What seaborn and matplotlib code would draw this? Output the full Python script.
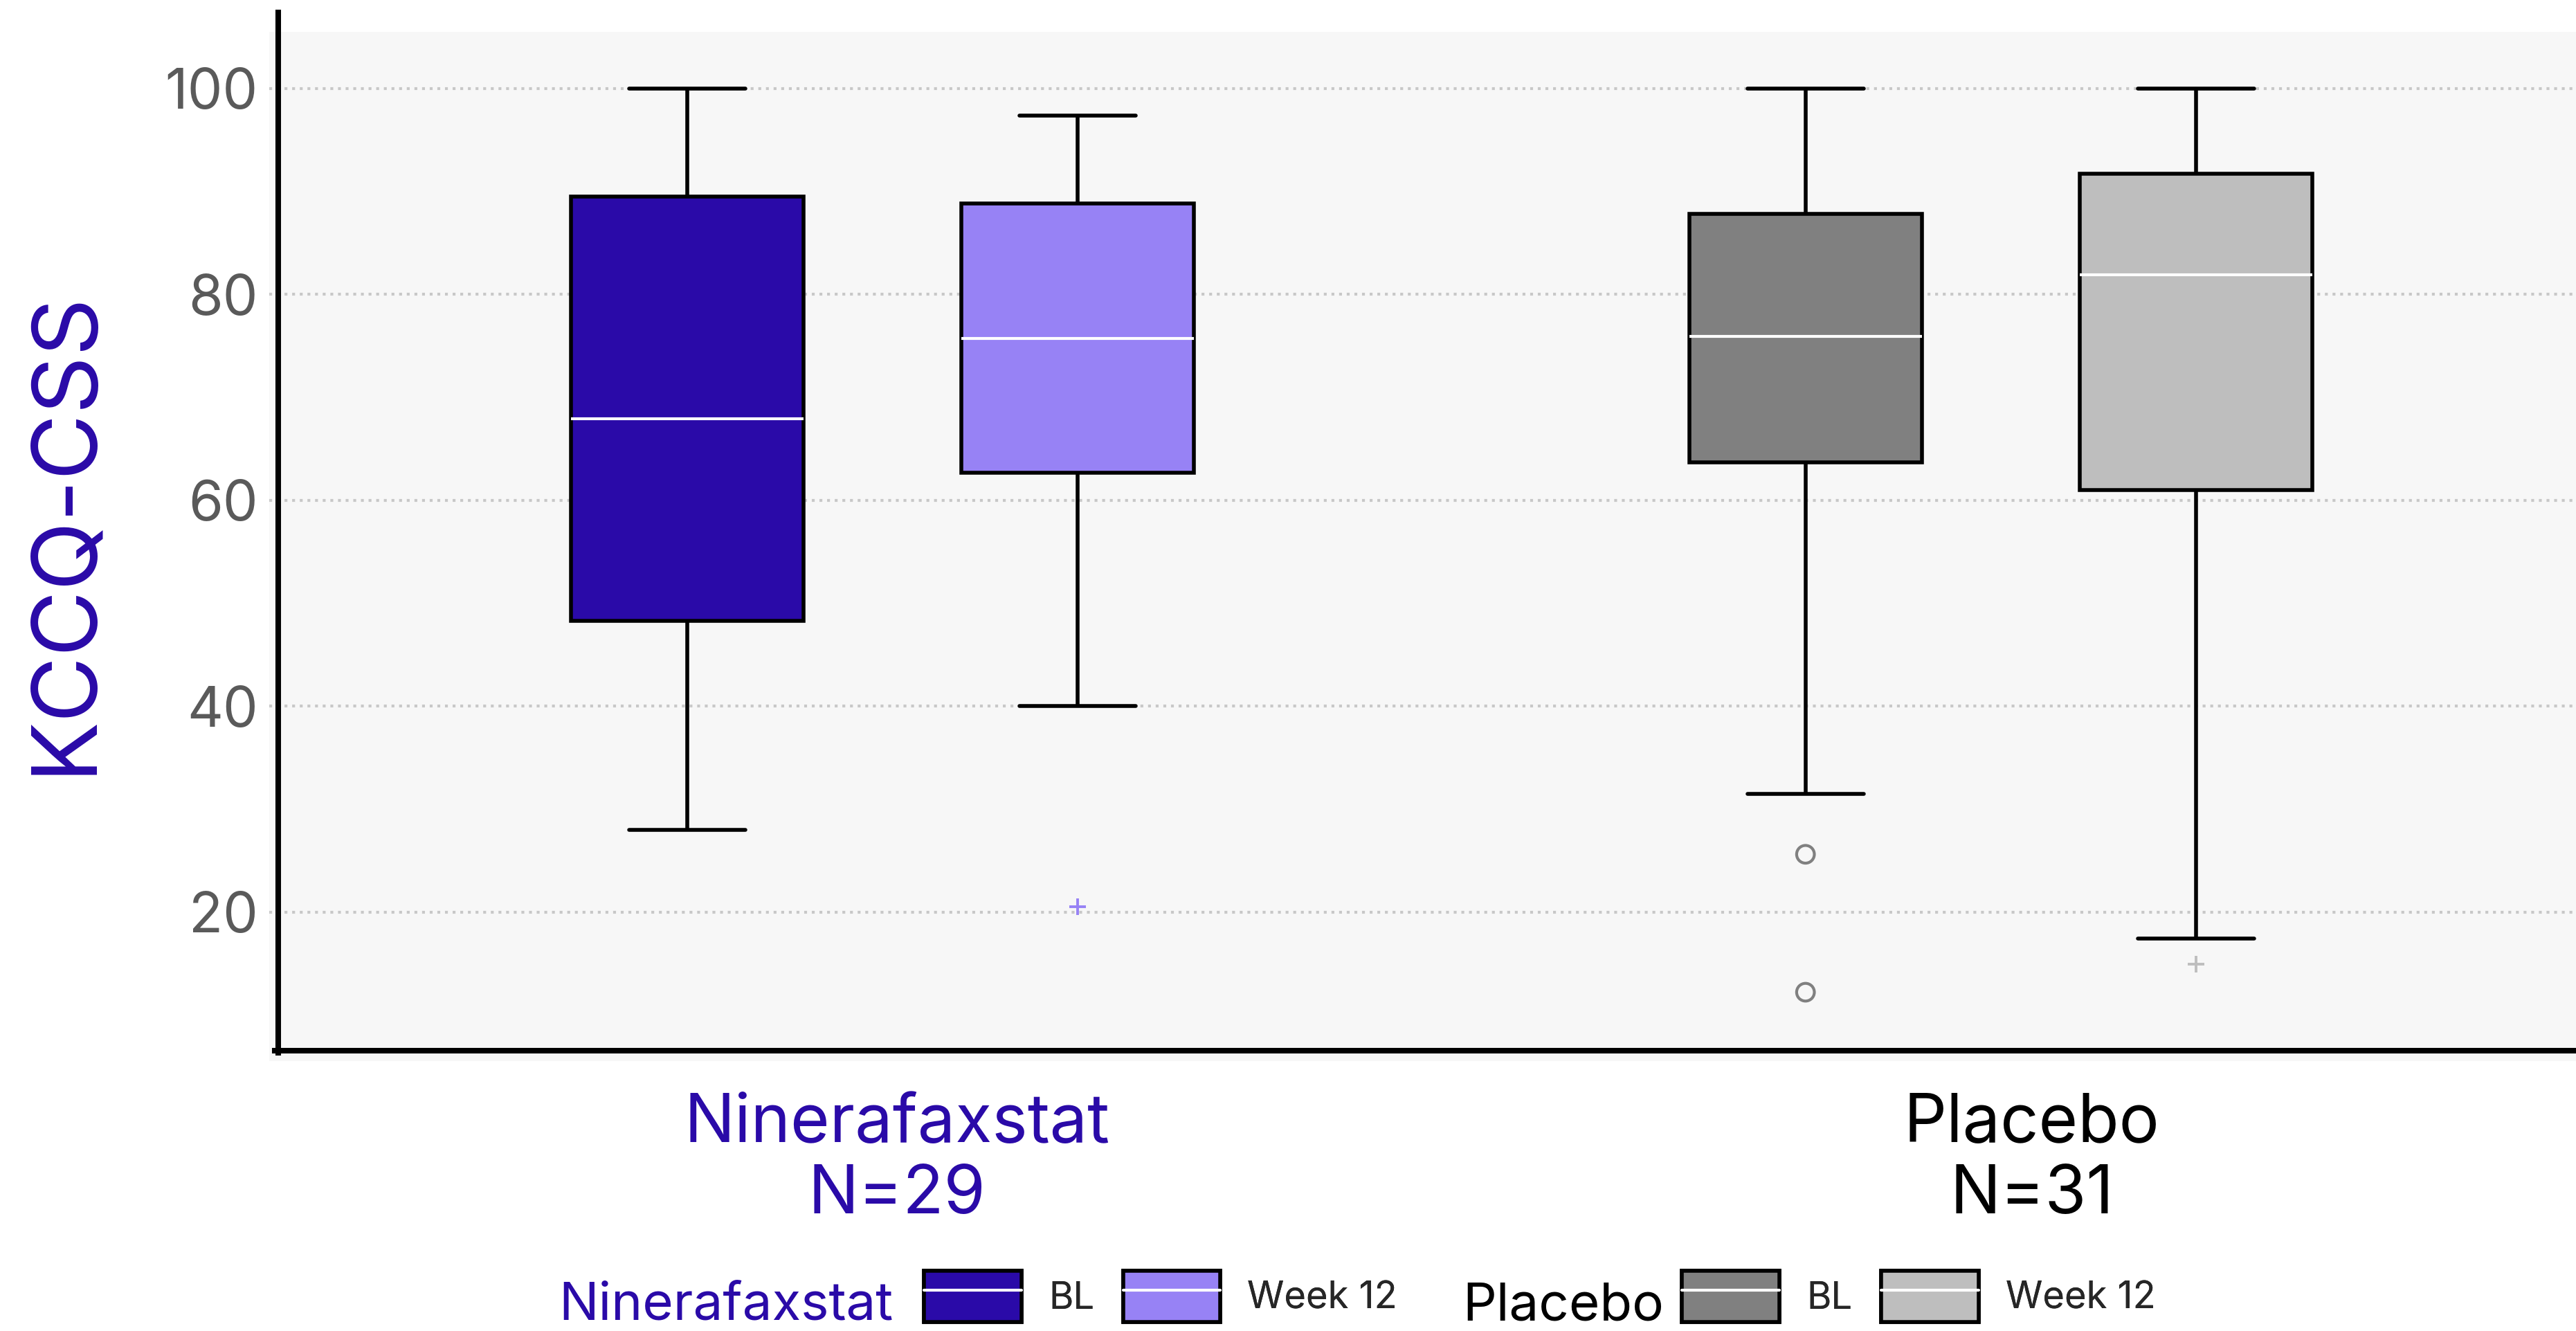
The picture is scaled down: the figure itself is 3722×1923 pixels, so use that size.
import matplotlib
matplotlib.use("Agg")
import matplotlib.pyplot as plt
from matplotlib.patches import Patch
from matplotlib.lines import Line2D
from matplotlib.legend_handler import HandlerTuple
from matplotlib.transforms import ScaledTranslation
import pandas as pd
import seaborn as sns

# --- data ---
arms = ["Ninerafaxstat", "Placebo"]
arm_n = [29, 31]
visits = ["BL", "Week 12"]

# five-number summary per box (whiskers go to min / max inside the fences)
box_arm = ["Ninerafaxstat", "Ninerafaxstat", "Placebo", "Placebo"]
box_visit = ["BL", "Week 12", "BL", "Week 12"]
whisker_lo = [28.0, 40.0, 31.5, 17.4]
q1 = [48.3, 62.7, 63.7, 61.0]
median = [67.9, 75.7, 75.9, 81.9]
q3 = [89.5, 88.8, 87.8, 91.7]
whisker_hi = [100.0, 97.4, 100.0, 100.0]

# points outside the whiskers
outlier_arm = ["Ninerafaxstat", "Placebo", "Placebo", "Placebo"]
outlier_visit = ["Week 12", "BL", "BL", "Week 12"]
outlier_value = [20.5, 25.6, 12.2, 14.9]

# --- styling ---
INDIGO = "#2A0AA8"
box_colors = {
    "Ninerafaxstat": {"BL": INDIGO, "Week 12": "#9782F5"},
    "Placebo": {"BL": "#808080", "Week 12": "#BEBEBE"},
}
label_colors = {"Ninerafaxstat": INDIGO, "Placebo": "black"}
flier_marker = {"BL": "o", "Week 12": "+"}
BOX_WIDTH = 0.698   # total dodge width per arm
BOX_GAP = 0.404     # space left between the two boxes of an arm

sns.set_theme(style="white")
plt.rcParams["font.family"] = ["Inter", "DejaVu Sans"]

# long table: each box is described by its summary values
rows = []
for i in range(len(box_arm)):
    for v in (whisker_lo[i], q1[i], median[i], q3[i], whisker_hi[i]):
        rows.append({"arm": box_arm[i], "arm_idx": arms.index(box_arm[i]),
                     "visit": box_visit[i], "score": v})
df = pd.DataFrame(rows)

fliers = pd.DataFrame({"arm": outlier_arm, "visit": outlier_visit, "score": outlier_value})
fliers["x"] = [arms.index(a) + (visits.index(v) - 0.5) * BOX_WIDTH / 2
               for a, v in zip(fliers["arm"], fliers["visit"])]

fig = plt.figure(figsize=(37.23, 19.23), dpi=100)
ax = fig.add_axes([389 / 3723, 1 - 1533 / 1923, (3723 - 389) / 3723, (1533 - 46) / 1923])
ax.set_facecolor("#F7F7F7")

for arm in arms:
    sns.boxplot(
        data=df[df["arm"] == arm], x="arm_idx", y="score",
        hue="visit", hue_order=visits, palette=box_colors[arm],
        native_scale=True, width=BOX_WIDTH, gap=BOX_GAP, whis=(0, 100),
        saturation=1, linecolor="black", linewidth=4,
        medianprops={"color": "white", "linewidth": 3},
        legend=False, ax=ax,
    )

for (arm, visit), grp in fliers.groupby(["arm", "visit"]):
    c = box_colors[arm][visit]
    if flier_marker[visit] == "o":
        sns.scatterplot(data=grp, x="x", y="score", marker="o", s=340,
                        facecolor="none", edgecolor=c, linewidth=3, ax=ax, zorder=5)
    else:
        sns.scatterplot(data=grp, x="x", y="score", marker="+", s=300,
                        color=c, linewidth=2.8, ax=ax, zorder=5)

ax.set_xlim(-0.548, 1.515)
ax.set_ylim(5.51, 105.51)
ax.set_yticks([20, 40, 60, 80, 100])
ax.grid(axis="y", color="#C8C8C8", linestyle=":", linewidth=3)
ax.grid(axis="x", visible=False)
ax.set_axisbelow(True)

for side in ("top", "right"):
    ax.spines[side].set_visible(False)
ax.spines["left"].set_position(("data", -0.540))
ax.spines["left"].set_bounds(6.3, 107.4)
ax.spines["bottom"].set_position(("data", 6.52))
ax.spines["bottom"].set_bounds(-0.543, 1.515)
for side in ("left", "bottom"):
    ax.spines[side].set_color("black")
    ax.spines[side].set_linewidth(5.8)
    ax.spines[side].set_visible(True)

ax.set_xlabel("")
ax.set_ylabel("")
ax.tick_params(axis="y", length=0, pad=21, labelsize=58, labelcolor="#5A5A5A")
ax.tick_params(axis="x", length=0, pad=44)
ax.set_xticks(range(len(arms)))
ax.set_xticklabels([f"{a}\nN={n}" for a, n in zip(arms, arm_n)],
                   fontsize=70, linespacing=1.17)
label_shift = [21, 45]  # px nudge of the tick labels
for lab, arm, dx in zip(ax.get_xticklabels(), arms, label_shift):
    lab.set_color(label_colors[arm])
    lab.set_transform(lab.get_transform() + ScaledTranslation(dx / 100, 0, fig.dpi_scale_trans))

fig.text(95 / 3723, 1 - 769 / 1923, "KCCQ-CSS", rotation=90, ha="center",
         va="center", fontsize=94, color=INDIGO)

# legends: one block per arm, title text on the left
legend_pos = {"Ninerafaxstat": (807, 1335), "Placebo": (2113, 2430)}
for arm in arms:
    title_x, leg_x = legend_pos[arm]
    fig.text(title_x / 3723, 1 - 1907 / 1923, arm, fontsize=55,
             color=label_colors[arm], va="baseline", ha="left")
    handles = [(Patch(facecolor=box_colors[arm][v], edgecolor="black", linewidth=4),
                Line2D([], [], color="white", linewidth=3)) for v in visits]
    leg = fig.legend(handles, visits, handler_map={tuple: HandlerTuple(ndivide=1, pad=0)},
                     loc="center left", bbox_to_anchor=(leg_x / 3723, 1 - 1873 / 1923),
                     ncol=2, frameon=False, fontsize=39, borderpad=0, borderaxespad=0,
                     handlelength=2.6, handleheight=1.7, handletextpad=0.72,
                     columnspacing=0.77)
    fig.add_artist(leg)

fig.savefig("out.png", dpi=100)
